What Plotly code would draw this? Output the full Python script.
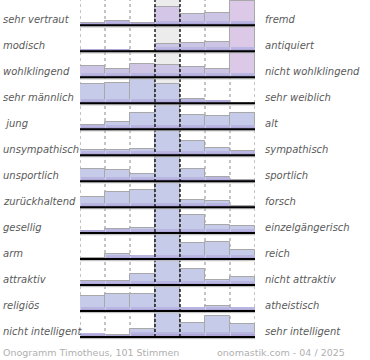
import plotly.graph_objects as go
import numpy as np

# ---------------- data ----------------
left_labels = ["sehr vertraut", "modisch", "wohlklingend", "sehr männlich", "\u00a0jung",
               "unsympathisch", "unsportlich", "zurückhaltend", "gesellig", "arm",
               "attraktiv", "religiös", "nicht intelligent"]
right_labels = ["fremd", "antiquiert", "nicht wohlklingend", "sehr weiblich", "alt",
                "sympathisch", "sportlich", "forsch", "einzelgängerisch", "reich",
                "nicht attraktiv", "atheistisch", "sehr intelligent"]

# share of votes per scale step (1 = left pole ... 7 = right pole), in %
r_vertraut = [2.3, 4.3, 2.3, 18.3, 11.0, 12.7, 26.0]
r_modisch = [1.7, 1.7, 0.0, 7.3, 8.3, 9.7, 30.0]
r_klang = [11.7, 8.0, 13.7, 12.0, 10.7, 8.7, 28.0]
r_maennlich = [19.0, 20.3, 24.3, 19.7, 4.3, 2.7, 0.0]
r_jung = [4.7, 7.0, 16.0, 26.0, 14.3, 13.0, 16.7]
r_sympath = [5.3, 5.3, 6.7, 30.0, 14.7, 7.3, 4.0]
r_sportlich = [12.3, 11.3, 7.0, 28.0, 12.3, 3.7, 1.3]
r_zurueck = [9.7, 14.7, 17.0, 25.0, 7.0, 5.7, 1.3]
r_gesellig = [2.3, 3.7, 4.7, 30.0, 17.7, 8.0, 7.0]
r_arm = [1.0, 5.3, 3.3, 28.0, 15.7, 17.0, 8.7]
r_attraktiv = [4.3, 4.3, 11.0, 30.0, 15.7, 5.3, 8.3]
r_religioes = [15.3, 17.3, 17.3, 24.0, 3.3, 5.3, 3.3]
r_intelligent = [3.3, 2.0, 7.7, 27.0, 14.3, 21.0, 12.7]

rows = [r_vertraut, r_modisch, r_klang, r_maennlich, r_jung, r_sympath, r_sportlich,
        r_zurueck, r_gesellig, r_arm, r_attraktiv, r_religioes, r_intelligent]
steps = [1, 2, 3, 4, 5, 6, 7]

# ---------------- style ----------------
ROW = 25.97          # one row unit (in % of votes) -> px
CAP = 24.6           # visible bar cap
N = len(rows)
FONT = "DejaVu Sans"

fig = go.Figure()
xs = [s - 0.5 for s in steps]

strip_cols = ["#a396cd", "#aea7d8", "#b9b7e1"]
SH = 1.5

for i, vals in enumerate(rows):
    base = N - 1 - i
    v = np.clip(np.array(vals, dtype=float), 0, CAP)
    h = v / ROW
    if i < 3:
        marker = dict(color=v, colorscale=[[0, "#c8c4e4"], [0.5, "#cdc5e5"], [1, "#dcc8e7"]],
                      cmin=0, cmax=CAP, line=dict(color="#a8a8a8", width=1))
    else:
        marker = dict(color="#c5cbe9", line=dict(color="#a8a8a8", width=1))
    fig.add_trace(go.Bar(x=xs, y=h, base=base, width=1, marker=marker,
                         hoverinfo="skip", showlegend=False))
    # darker purple shading at the foot of each bar
    for k, col in enumerate(strip_cols):
        sh = np.clip(v - k * SH, 0, SH) / ROW
        fig.add_trace(go.Bar(x=xs, y=sh, base=base + k * SH / ROW, width=0.96,
                             marker=dict(color=col, line=dict(width=0)),
                             hoverinfo="skip", showlegend=False))

shapes = []
top = N - 1 + 25.4 / ROW
# grey middle band
shapes.append(dict(type="rect", xref="x", yref="y", x0=3, x1=4, y0=0, y1=top + 1,
                   fillcolor="#ececec", line=dict(width=0), layer="below"))
# dotted grid lines
for gx in [0, 1, 2, 5, 6, 7]:
    shapes.append(dict(type="line", xref="x", yref="y", x0=gx, x1=gx, y0=0, y1=top + 1,
                       line=dict(color="#8a8a8a", width=1, dash="dot"), layer="below"))
# dashed middle lines
for gx in [3, 4]:
    shapes.append(dict(type="line", xref="x", yref="y", x0=gx, x1=gx, y0=0, y1=top + 1,
                       line=dict(color="#000000", width=1.3, dash="3px,2px"), layer="above"))
# baselines
for i in range(N):
    b = N - 1 - i
    shapes.append(dict(type="line", xref="x", yref="y", x0=0, x1=7,
                       y0=b - 1.6 / ROW, y1=b - 1.6 / ROW,
                       line=dict(color="#b8b8b8", width=1), layer="above"))
    shapes.append(dict(type="line", xref="x", yref="y", x0=0, x1=7, y0=b, y1=b,
                       line=dict(color="#000000", width=2), layer="above"))

annotations = []
lab_font = dict(family=FONT, size=10, color="#5a5a5a")
for i in range(N):
    yy = N - 1 - i + 6 / ROW
    annotations.append(dict(text="<i>" + left_labels[i] + "</i>", xref="paper", yref="y",
                            x=-79 / 175, y=yy, xanchor="left", yanchor="middle",
                            showarrow=False, font=lab_font))
    annotations.append(dict(text="<i>" + right_labels[i] + "</i>", xref="paper", yref="y",
                            x=183 / 175, y=yy, xanchor="left", yanchor="middle",
                            showarrow=False, font=lab_font))

foot_font = dict(family=FONT, size=9.5, color="#b0b0b0")
annotations.append(dict(text="Onogramm Timotheus, 101 Stimmen", xref="paper", yref="paper",
                        x=-79 / 175, y=-12 / 340, xanchor="left", yanchor="middle",
                        showarrow=False, font=foot_font))
annotations.append(dict(text="onomastik.com - 04 / 2025", xref="paper", yref="paper",
                        x=(347 - 80) / 175, y=-12 / 340, xanchor="right", yanchor="middle",
                        showarrow=False, font=foot_font))

ybot = -3 / ROW
fig.update_layout(
    width=370, height=360,
    margin=dict(l=80, r=115, t=0, b=20, pad=0),
    barmode="overlay", bargap=0,
    paper_bgcolor="white", plot_bgcolor="white",
    xaxis=dict(range=[0, 7], visible=False, fixedrange=True),
    yaxis=dict(range=[ybot, ybot + 340 / ROW], visible=False, fixedrange=True),
    shapes=shapes, annotations=annotations,
    showlegend=False,
)

fig.write_html("out.html", config={"displayModeBar": False},
               post_script="document.body.style.margin='0';document.body.style.padding='0';")
